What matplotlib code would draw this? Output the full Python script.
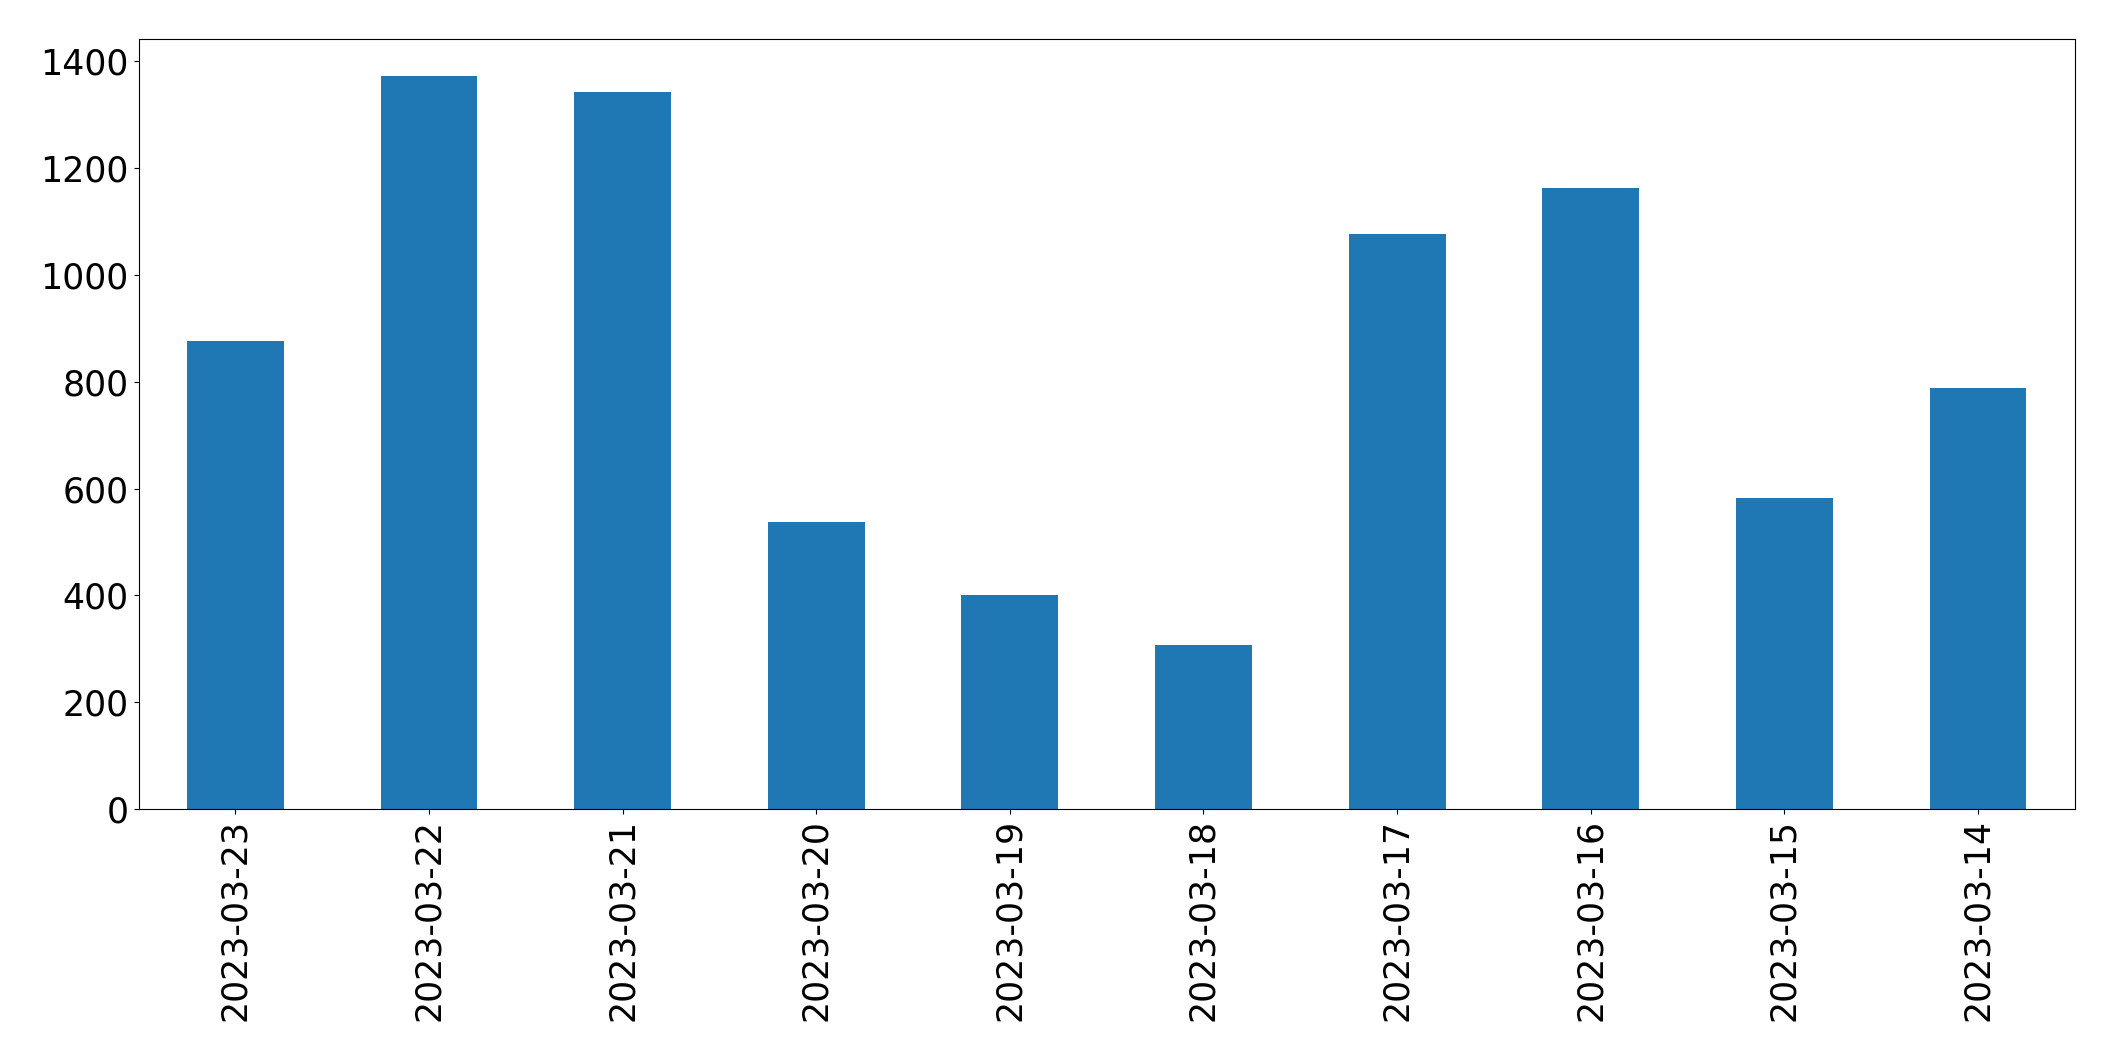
import matplotlib
matplotlib.use("Agg")
import matplotlib.pyplot as plt

dates = ["2023-03-23", "2023-03-22", "2023-03-21", "2023-03-20", "2023-03-19",
         "2023-03-18", "2023-03-17", "2023-03-16", "2023-03-15", "2023-03-14"]
values = [877, 1373, 1343, 538, 400, 307, 1077, 1163, 582, 788]

fig = plt.figure(figsize=(21.15, 10.61), dpi=100)
ax = fig.add_axes([0.0655, 0.2375, 0.9155, 0.7255])
x = list(range(len(dates)))
ax.bar(x, values, width=0.5, color="#1f77b4")
ax.set_xlim(-0.5, len(dates) - 0.5)
ax.set_xticks(x)
ax.set_xticklabels(dates, rotation=90)
ax.tick_params(axis="both", labelsize=25)
fig.savefig("out.png", dpi=100)
